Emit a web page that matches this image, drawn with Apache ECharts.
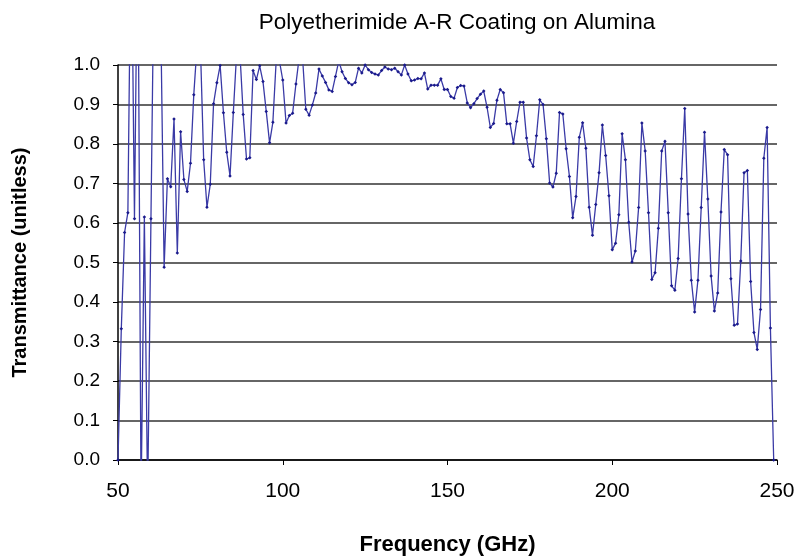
<!DOCTYPE html>
<html>
<head>
<meta charset="utf-8">
<script src="https://cdn.jsdelivr.net/npm/echarts@6/dist/echarts.min.js"></script>
<style>html,body{margin:0;padding:0;background:#fff}#c{width:795px;height:556px}</style>
</head>
<body>
<div id="c"></div>
<script>
// Frequency samples (GHz): first sample and spacing
const startGHz = 50;
const stepGHz = 1;
// Transmittance values, one per GHz from 50 to 249
const transmittance = [
  0.0, 0.332, 0.576, 0.626, 1.4, 0.611, 1.4, -0.1, 0.615, -0.1,
  0.611, 1.3, 1.4, 1.1, 0.488, 0.712, 0.692, 0.863, 0.524, 0.831,
  0.710, 0.680, 0.751, 0.925, 1.05, 1.05, 0.760, 0.640, 0.698, 0.902,
  0.955, 0.999, 0.879, 0.779, 0.719, 0.880, 1.03, 1.03, 0.875, 0.762,
  0.765, 0.986, 0.963, 0.998, 0.958, 0.882, 0.803, 0.855, 1.01, 1.01,
  0.962, 0.853, 0.872, 0.878, 0.952, 1.02, 1.02, 0.888, 0.873, 0.899,
  0.929, 0.990, 0.972, 0.956, 0.937, 0.933, 0.971, 1.01, 0.983, 0.966,
  0.955, 0.950, 0.956, 0.992, 0.980, 1.0, 0.988, 0.981, 0.977, 0.975,
  0.986, 0.995, 0.990, 0.988, 0.992, 0.983, 0.975, 1.0, 0.977, 0.960,
  0.962, 0.966, 0.965, 0.980, 0.939, 0.949, 0.949, 0.949, 0.965, 0.938,
  0.938, 0.920, 0.916, 0.943, 0.948, 0.947, 0.904, 0.892, 0.902, 0.915,
  0.926, 0.934, 0.893, 0.842, 0.852, 0.911, 0.938, 0.930, 0.851, 0.851,
  0.802, 0.857, 0.906, 0.906, 0.815, 0.760, 0.743, 0.821, 0.912, 0.900,
  0.813, 0.701, 0.691, 0.726, 0.880, 0.876, 0.788, 0.718, 0.613, 0.667,
  0.817, 0.854, 0.789, 0.640, 0.569, 0.647, 0.727, 0.848, 0.771, 0.669,
  0.532, 0.549, 0.621, 0.826, 0.760, 0.602, 0.501, 0.529, 0.639, 0.853,
  0.782, 0.626, 0.457, 0.474, 0.587, 0.782, 0.807, 0.626, 0.441, 0.430,
  0.510, 0.712, 0.890, 0.623, 0.455, 0.375, 0.455, 0.639, 0.830, 0.661,
  0.466, 0.377, 0.423, 0.628, 0.786, 0.773, 0.459, 0.341, 0.344, 0.504,
  0.727, 0.733, 0.452, 0.323, 0.280, 0.381, 0.764, 0.842, 0.334, 0.0
];
const xTicks = [50, 100, 150, 200, 250];
const yTicks = [0.0, 0.1, 0.2, 0.3, 0.4, 0.5, 0.6, 0.7, 0.8, 0.9, 1.0];
const titleText = 'Polyetherimide A-R Coating on Alumina';
const xName = 'Frequency (GHz)';
const yName = 'Transmittance (unitless)';

const points = transmittance.map((v, i) => [startGHz + i * stepGHz, v]);

const chart = echarts.init(document.getElementById('c'), null, {renderer: 'canvas'});
const font = 'Liberation Sans, Arial, Helvetica, sans-serif';
chart.setOption({
  animation: false,
  backgroundColor: '#fff',
  title: {
    text: titleText,
    left: 452, top: 6, textAlign: 'center',
    textStyle: {fontFamily: font, fontSize: 22.5, fontWeight: 'normal', color: '#000'}
  },
  grid: {left: 118, right: 18, top: 65, bottom: 96, containLabel: false, outerBoundsMode: 'none'},
  xAxis: {
    type: 'value', min: xTicks[0], max: xTicks[xTicks.length - 1], interval: 50,
    name: xName, nameLocation: 'middle', nameGap: 74,
    nameTextStyle: {fontFamily: font, fontSize: 22, fontWeight: 'bold', color: '#000'},
    axisLine: {lineStyle: {color: '#000', width: 1.5}},
    axisTick: {show: true, length: 5, lineStyle: {color: '#000'}},
    axisLabel: {fontFamily: font, fontSize: 21, color: '#000', margin: 21},
    splitLine: {show: false}
  },
  yAxis: {
    type: 'value', min: yTicks[0], max: yTicks[yTicks.length - 1], interval: 0.1,
    name: yName, nameLocation: 'middle', nameGap: 88, nameRotate: 90,
    nameTextStyle: {fontFamily: font, fontSize: 20, fontWeight: 'bold', color: '#000'},
    axisLine: {show: true, lineStyle: {color: '#000', width: 1.5}},
    axisTick: {show: true, length: 5, lineStyle: {color: '#000'}},
    axisLabel: {fontFamily: font, fontSize: 19, color: '#000', margin: 18,
      formatter: v => v.toFixed(1)},
    splitLine: {show: true, lineStyle: {color: '#333', width: 1.5}}
  },
  series: [{
    type: 'line',
    data: points,
    clip: true,
    lineStyle: {color: '#3a3aa6', width: 1.3},
    itemStyle: {color: '#1a1a8c'},
    symbol: 'diamond', symbolSize: 3.5, showSymbol: true,
    emphasis: {disabled: true}
  }]
});
</script>
</body>
</html>
